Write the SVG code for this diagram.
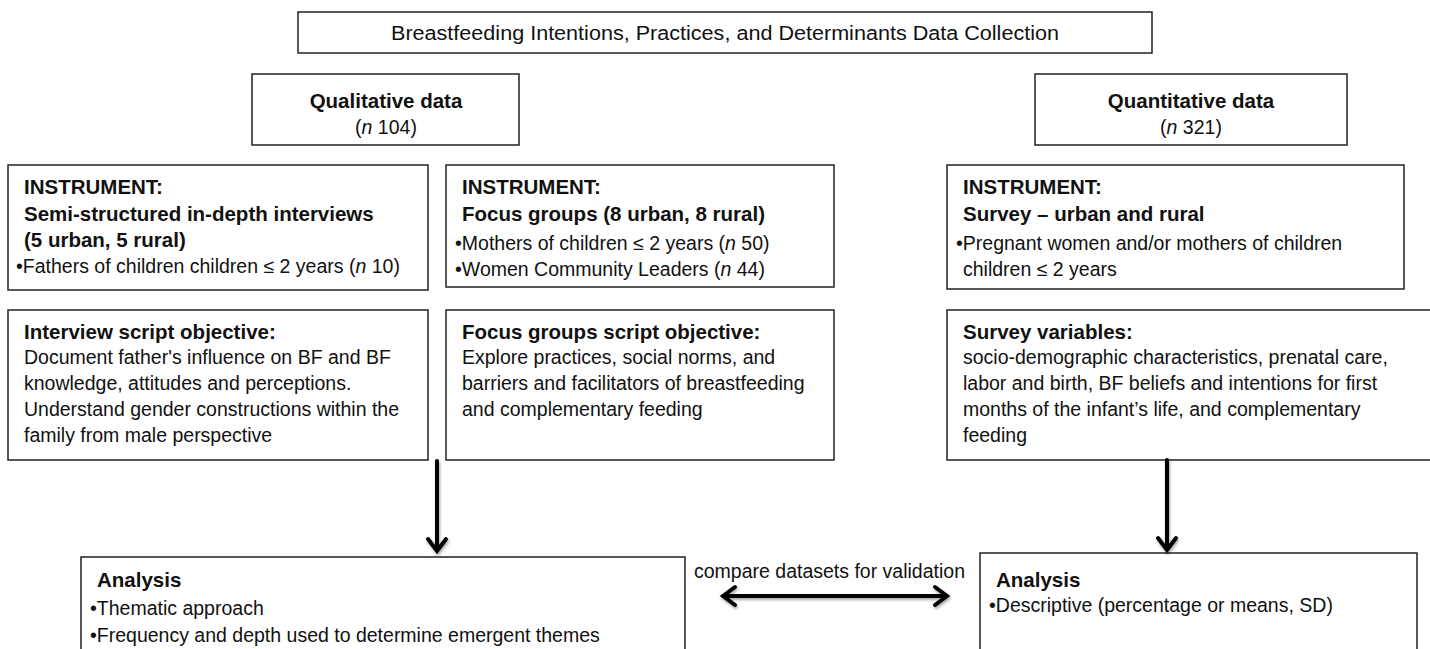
<svg xmlns="http://www.w3.org/2000/svg" width="1430" height="649" viewBox="0 0 1430 649">
<style>
.box{fill:#fff;stroke:#222;stroke-width:1.5}
text{font-family:"Liberation Sans",Arial,sans-serif;font-size:19.5px;fill:#111}
.b{font-weight:bold;font-size:20.5px}
.c{text-anchor:middle}
.arr{fill:none;stroke:#000;stroke-width:4;stroke-linecap:round;stroke-linejoin:miter}
</style>
<defs>
<filter id="sh" x="-10%" y="-10%" width="120%" height="130%">
<feDropShadow dx="1" dy="2" stdDeviation="1.5" flood-color="#000" flood-opacity="0.35"/>
</filter>
</defs>
<rect width="1430" height="649" fill="#fff"/>

<g id="title">
<rect class="box" x="298" y="12" width="854" height="41"/>
<text class="c" x="725" y="40" textLength="668" lengthAdjust="spacingAndGlyphs">Breastfeeding Intentions, Practices, and Determinants Data Collection</text>
</g>

<g id="qualitative">
<rect class="box" x="252" y="74" width="267" height="71"/>
<text class="c b" x="386" y="108">Qualitative data</text>
<text class="c" x="386" y="134">(<tspan font-style="italic">n</tspan> 104)</text>
</g>

<g id="quantitative">
<rect class="box" x="1035" y="74" width="312" height="71"/>
<text class="c b" x="1191" y="108">Quantitative data</text>
<text class="c" x="1191" y="134">(<tspan font-style="italic">n</tspan> 321)</text>
</g>

<g id="instrument-interviews">
<rect class="box" x="8" y="165" width="420" height="125"/>
<text class="b" x="24" y="194">INSTRUMENT:</text>
<text class="b" x="24" y="221">Semi-structured in-depth interviews</text>
<text class="b" x="24" y="247">(5 urban, 5 rural)</text>
<text x="16" y="273">•Fathers of children children ≤ 2 years (<tspan font-style="italic">n</tspan> 10)</text>
</g>

<g id="instrument-focus">
<rect class="box" x="446" y="165" width="388" height="122"/>
<text class="b" x="462" y="194">INSTRUMENT:</text>
<text class="b" x="462" y="221">Focus groups (8 urban, 8 rural)</text>
<text x="455" y="250">•Mothers of children ≤ 2 years (<tspan font-style="italic">n</tspan> 50)</text>
<text x="455" y="276">•Women Community Leaders (<tspan font-style="italic">n</tspan> 44)</text>
</g>

<g id="instrument-survey">
<rect class="box" x="947" y="165" width="457" height="124"/>
<text class="b" x="963" y="194">INSTRUMENT:</text>
<text class="b" x="963" y="221">Survey – urban and rural</text>
<text x="956" y="250">•Pregnant women and/or mothers of children</text>
<text x="963" y="276">children ≤ 2 years</text>
</g>

<g id="objective-interview">
<rect class="box" x="8" y="310" width="420" height="150"/>
<text class="b" x="24" y="339">Interview script objective:</text>
<text x="24" y="364">Document father's influence on BF and BF</text>
<text x="24" y="390">knowledge, attitudes and perceptions.</text>
<text x="24" y="416">Understand gender constructions within the</text>
<text x="24" y="442">family from male perspective</text>
</g>

<g id="objective-focus">
<rect class="box" x="446" y="310" width="388" height="150"/>
<text class="b" x="462" y="339">Focus groups script objective:</text>
<text x="462" y="364">Explore practices, social norms, and</text>
<text x="462" y="390">barriers and facilitators of breastfeeding</text>
<text x="462" y="416">and complementary feeding</text>
</g>

<g id="survey-variables">
<rect class="box" x="947" y="310" width="490" height="150"/>
<text class="b" x="963" y="339">Survey variables:</text>
<text x="963" y="364">socio-demographic characteristics, prenatal care,</text>
<text x="963" y="390">labor and birth, BF beliefs and intentions for first</text>
<text x="963" y="416">months of the infant’s life, and complementary</text>
<text x="963" y="442">feeding</text>
</g>

<g id="analysis-qualitative">
<rect class="box" x="81" y="557" width="604" height="100"/>
<text class="b" x="97" y="587">Analysis</text>
<text x="90" y="615">•Thematic approach</text>
<text x="90" y="642">•Frequency and depth used to determine emergent themes</text>
</g>

<g id="analysis-quantitative">
<rect class="box" x="980" y="553" width="437" height="104"/>
<text class="b" x="996" y="587">Analysis</text>
<text x="989" y="612">•Descriptive (percentage or means, SD)</text>
</g>

<g id="connectors">
<g filter="url(#sh)">
<line class="arr" x1="437" y1="461" x2="437" y2="550"/>
<polyline class="arr" points="428,539 437,551 446,539"/>
<line class="arr" x1="1167" y1="460" x2="1167" y2="549"/>
<polyline class="arr" points="1158,538 1167,550 1176,538"/>
<line class="arr" x1="724" y1="596" x2="946" y2="596"/>
<polyline class="arr" points="735,587 723,596 735,605"/>
<polyline class="arr" points="935,587 947,596 935,605"/>
</g>
<text x="694" y="578">compare datasets for validation</text>
</g>
</svg>
